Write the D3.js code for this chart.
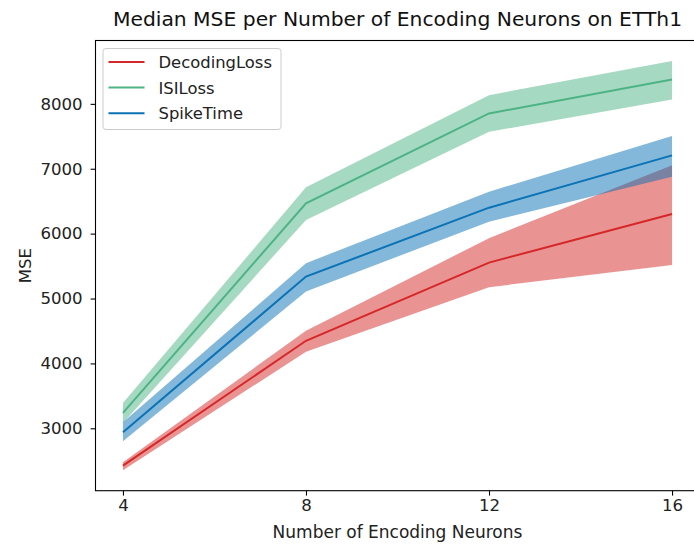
<!DOCTYPE html>
<html><head><meta charset="utf-8">
<script src="https://cdn.jsdelivr.net/npm/d3@7"></script>
<style>body{margin:0;background:#fff}svg{display:block;font-family:"DejaVu Sans",sans-serif}</style>
</head><body>
<svg id="c" width="694" height="544"></svg>
<script>
const neurons = [4, 8, 12, 16];
const seriesNames = ["DecodingLoss", "ISILoss", "SpikeTime"];
const decodingMedian = [2426, 4349, 5554, 6303];
const decodingLow    = [2354, 4180, 5175, 5518];
const decodingHigh   = [2477, 4503, 5930, 7054];
const isiMedian = [3237, 6468, 7852, 8375];
const isiLow    = [3083, 6211, 7569, 8068];
const isiHigh   = [3390, 6714, 8134, 8661];
const spikeMedian = [2938, 5338, 6400, 7206];
const spikeLow    = [2800, 5108, 6185, 6877];
const spikeHigh   = [3092, 5545, 6646, 7503];
const yTicks = [3000, 4000, 5000, 6000, 7000, 8000];
const xTicks = [4, 8, 12, 16];

const colors = {DecodingLoss: "#d62728", ISILoss: "#4db385", SpikeTime: "#0a72b5"};
const series = [
  {name: "DecodingLoss", med: decodingMedian, lo: decodingLow, hi: decodingHigh},
  {name: "ISILoss", med: isiMedian, lo: isiLow, hi: isiHigh},
  {name: "SpikeTime", med: spikeMedian, lo: spikeLow, hi: spikeHigh}
];

const svg = d3.select("#c");
const L = 95.5, R = 699.5, T = 40.5, B = 490.7;
const FS = 16.6;

const xMin = d3.min(neurons), xMax = d3.max(neurons);
const xPad = (xMax - xMin) * 0.05;
const x = d3.scaleLinear().domain([xMin - xPad, xMax + xPad]).range([L, R]);
const allLo = d3.min(series, s => d3.min(s.lo)), allHi = d3.max(series, s => d3.max(s.hi));
const yPad = (allHi - allLo) * 0.05;
const y = d3.scaleLinear().domain([allLo - yPad, allHi + yPad]).range([B, T]);

const g = svg.append("g");
series.forEach(s => {
  const pts = neurons.map((n, i) => ({x: n, lo: s.lo[i], hi: s.hi[i], m: s.med[i]}));
  g.append("path").datum(pts)
    .attr("d", d3.area().x(d => x(d.x)).y0(d => y(d.lo)).y1(d => y(d.hi)))
    .attr("fill", colors[s.name]).attr("fill-opacity", 0.5);
  g.append("path").datum(pts)
    .attr("d", d3.line().x(d => x(d.x)).y(d => y(d.m)))
    .attr("fill", "none").attr("stroke", colors[s.name]).attr("stroke-width", 2);
});

// axes
const xAxis = svg.append("g").attr("transform", `translate(0,${B})`)
  .call(d3.axisBottom(x).tickValues(xTicks).tickSize(4.9).tickPadding(4).tickFormat(d3.format("d")));
const yAxis = svg.append("g").attr("transform", `translate(${L},0)`)
  .call(d3.axisLeft(y).tickValues(yTicks).tickSize(4.9).tickPadding(8).tickFormat(d3.format("d")));
[xAxis, yAxis].forEach(a => {
  a.select(".domain").remove();
  a.selectAll("line").attr("stroke", "#000").attr("stroke-width", 1.1);
  a.selectAll("text").attr("font-family", "DejaVu Sans").attr("font-size", FS).attr("fill", "#222");
});
// spines
svg.append("rect").attr("x", L).attr("y", T).attr("width", R - L).attr("height", B - T)
  .attr("fill", "none").attr("stroke", "#000").attr("stroke-width", 1.1);

// title and labels
svg.append("text").attr("x", (L + R) / 2).attr("y", 26).attr("text-anchor", "middle")
  .attr("font-size", 20.3).attr("fill", "#111").text("Median MSE per Number of Encoding Neurons on ETTh1");
svg.append("text").attr("x", (L + R) / 2).attr("y", 538).attr("text-anchor", "middle")
  .attr("font-size", 17).attr("fill", "#222").text("Number of Encoding Neurons");
svg.append("text").attr("transform", `translate(31,${(T + B) / 2}) rotate(-90)`).attr("text-anchor", "middle")
  .attr("font-size", FS).attr("fill", "#222").text("MSE");

// legend
const lg = svg.append("g");
lg.append("rect").attr("x", 103).attr("y", 48.5).attr("width", 178).attr("height", 81).attr("rx", 3)
  .attr("fill", "#fff").attr("fill-opacity", 0.8).attr("stroke", "#cccccc").attr("stroke-width", 1);
seriesNames.forEach((n, i) => {
  const cy = 62 + i * 25.6;
  lg.append("line").attr("x1", 108.5).attr("x2", 144.5).attr("y1", cy).attr("y2", cy)
    .attr("stroke", colors[n]).attr("stroke-width", 2);
  lg.append("text").attr("x", 158.5).attr("y", cy + 6).attr("font-size", 16.4).attr("fill", "#222").text(n);
});
</script>
</body></html>
